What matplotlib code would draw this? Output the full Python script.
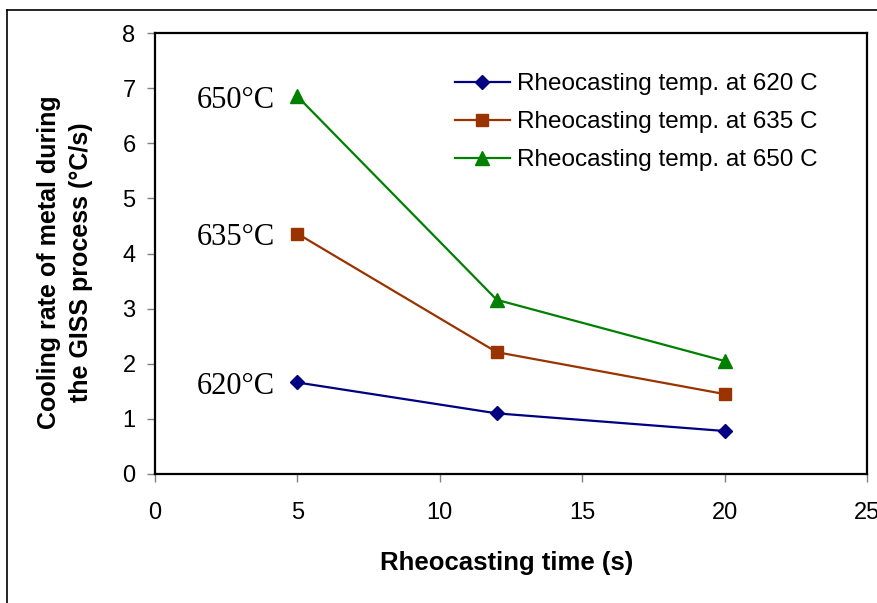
import matplotlib
matplotlib.use("Agg")
import matplotlib.pyplot as plt
from matplotlib.lines import Line2D

times = [5, 12, 20]
rate_620 = [1.66, 1.10, 0.78]
rate_635 = [4.36, 2.21, 1.45]
rate_650 = [6.85, 3.16, 2.05]
series_labels = ["Rheocasting temp. at 620 C", "Rheocasting temp. at 635 C", "Rheocasting temp. at 650 C"]
point_labels = ["620°C", "635°C", "650°C"]
x_ticks = [0, 5, 10, 15, 20, 25]
y_ticks = [0, 1, 2, 3, 4, 5, 6, 7, 8]

W, H = 878, 603
fig = plt.figure(figsize=(W / 100, H / 100), dpi=100)
ax = fig.add_axes([155 / W, 1 - 474 / H, (867 - 155) / W, (474 - 33) / H])

sans = "Liberation Sans"
serif = "Liberation Serif"

colors = ["#000080", "#993300", "#008000"]
markers = ["D", "s", "^"]
msizes = [7, 8.5, 10]
for vals, lab, c, m, ms in zip([rate_620, rate_635, rate_650], series_labels, colors, markers, msizes):
    ax.plot(times, vals, color=c, marker=m, markersize=ms, linewidth=1.6, label=lab,
            markeredgecolor=c, clip_on=False)

for vals, txt in zip([rate_620, rate_635, rate_650], point_labels):
    ax.text(times[0] - 0.78, vals[0] - 0.07, txt, family=serif, fontsize=22,
            ha="right", va="center")

ax.set_xlim(0, 25)
ax.set_ylim(0, 8)
ax.set_xticks(x_ticks)
ax.set_yticks(y_ticks)
ax.tick_params(axis="both", direction="out", length=6, width=1, color="#808080",
               labelsize=17)
ax.tick_params(axis="y", pad=8)
ax.tick_params(axis="x", pad=14)
for lab in ax.get_xticklabels() + ax.get_yticklabels():
    lab.set_family(sans)
for s in ax.spines.values():
    s.set_linewidth(1.6)
    s.set_color("black")

fig.text(507 / W, 1 - 563 / H, "Rheocasting time (s)", family=sans, fontsize=18.5,
         fontweight="bold", ha="center", va="center")
fig.text(65 / W, 1 - 262 / H, "Cooling rate of metal during\nthe GISS process (°C/s)",
         family=sans, fontsize=18, fontweight="bold", rotation=90, ha="center",
         va="center", linespacing=1.38, multialignment="center")

leg = ax.legend(loc="upper left", bbox_to_anchor=(455 / W, 1 - 73 / H),
                bbox_transform=fig.transFigure, frameon=False, borderpad=0,
                borderaxespad=0, prop={"family": sans, "size": 17.5},
                handlelength=2.25, handletextpad=0.3, labelspacing=0.66)

fig.add_artist(Line2D([7.5 / W, 7.5 / W], [0, 1 - 9.5 / H], transform=fig.transFigure,
                      color="black", linewidth=1.2))
fig.add_artist(Line2D([7.5 / W, 1], [1 - 9.5 / H, 1 - 9.5 / H], transform=fig.transFigure,
                      color="black", linewidth=1.2))

fig.savefig("out.png", dpi=100)
